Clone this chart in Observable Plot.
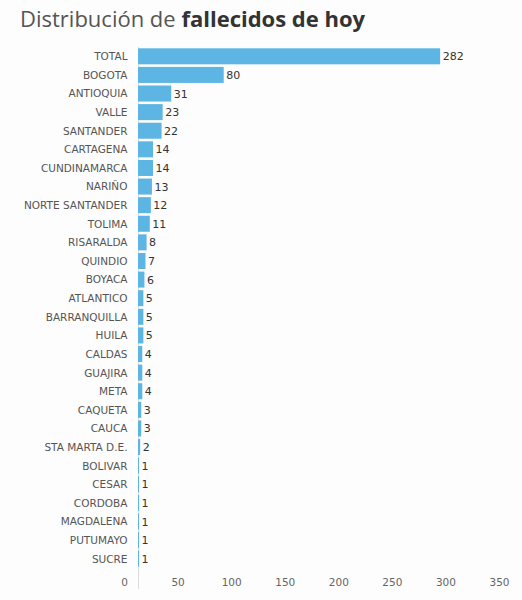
<!DOCTYPE html>
<html>
<head>
<meta charset="utf-8">
<script src="https://cdn.jsdelivr.net/npm/d3@7"></script>
<script src="https://cdn.jsdelivr.net/npm/@observablehq/plot@0.6"></script>
<style>
  html, body { margin: 0; padding: 0; background: #fdfdfd; overflow: hidden; }
  #title { font-family: "Open Sans", sans-serif; font-size: 22px; color: #555; padding: 6px 0 0 20px; height: 30px; line-height: 24px; white-space: nowrap; }
  #title b { color: #333; font-weight: 700; }
  #chart svg { display: block; }
</style>
</head>
<body>
<div id="title">Distribución de <b>fallecidos de hoy</b></div>
<div id="chart"></div>
<script>
const regions = ["TOTAL","BOGOTA","ANTIOQUIA","VALLE","SANTANDER","CARTAGENA","CUNDINAMARCA","NARIÑO","NORTE SANTANDER","TOLIMA","RISARALDA","QUINDIO","BOYACA","ATLANTICO","BARRANQUILLA","HUILA","CALDAS","GUAJIRA","META","CAQUETA","CAUCA","STA MARTA D.E.","BOLIVAR","CESAR","CORDOBA","MAGDALENA","PUTUMAYO","SUCRE"];
const deaths = [282,80,31,23,22,14,14,13,12,11,8,7,6,5,5,5,4,4,4,3,3,2,1,1,1,1,1,1];
const xTicks = [0,50,100,150,200,250,300,350];

const data = regions.map((r, i) => ({region: r, value: deaths[i]}));

const chart = Plot.plot({
  width: 522,
  height: 564,
  marginLeft: 138,
  marginRight: 9,
  marginTop: 11,
  marginBottom: 32,
  style: {fontFamily: "DejaVu Sans, sans-serif", fontSize: "10.5px", background: "transparent", color: "#555"},
  x: {domain: [0, 350], ticks: xTicks, axis: null},
  y: {domain: regions, padding: 0, round: false, axis: null},
  marks: [
    Plot.ruleX([0], {stroke: "#ddd", insetBottom: -21}),
    Plot.barX(data, {y: "region", x: "value", fill: "#5cb5e3", insetTop: 1.3, insetBottom: 1.3}),
    Plot.axisY({tickSize: 0, tickPadding: 11, label: null, fill: "#555", fontSize: 10.5}),
    Plot.axisX({ticks: xTicks, tickSize: 0, tickPadding: 10, label: null, dx: -14, fill: "#666", fontSize: 10.5}),
    Plot.text(data, {y: "region", x: "value", text: d => String(d.value), textAnchor: "start", dx: 2, fill: "#333", fontSize: 11})
  ]
});
document.getElementById("chart").appendChild(chart);
</script>
</body>
</html>
